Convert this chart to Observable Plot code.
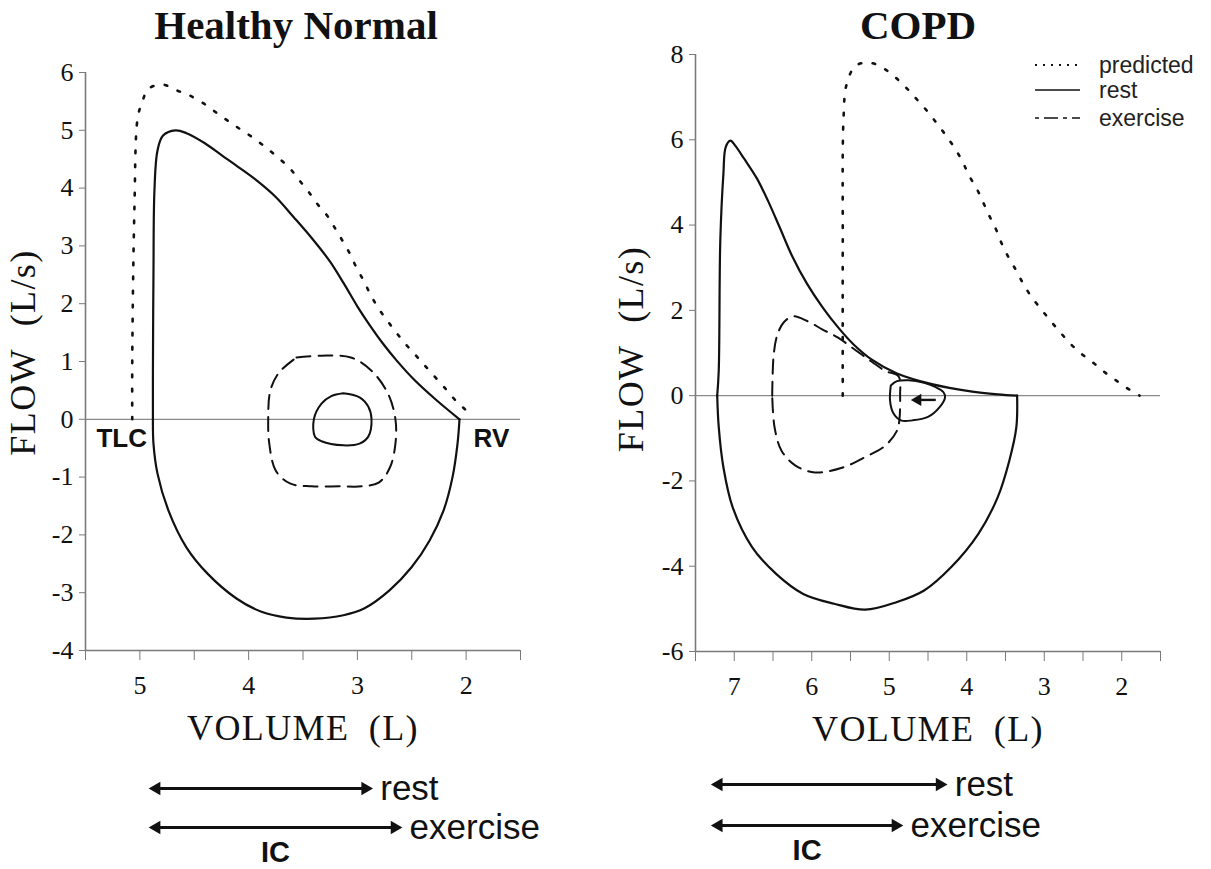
<!DOCTYPE html>
<html><head><meta charset="utf-8">
<script src="https://cdn.jsdelivr.net/npm/d3@7"></script>
<script src="https://cdn.jsdelivr.net/npm/@observablehq/plot@0.6"></script>
<style>
body{margin:0;background:#fff;width:1211px;height:869px;position:relative;overflow:hidden;}
.panel{position:absolute;}
</style></head><body>
<div id="left" class="panel" style="left:0;top:0"></div>
<div id="leftIC" class="panel" style="left:0;top:760px"></div>
<div id="right" class="panel" style="left:605px;top:0"></div>
<div id="rightIC" class="panel" style="left:605px;top:760px"></div>
<div id="legend" class="panel" style="left:1030px;top:48px"></div>
<script>
// ---------- DATA: [volume (L), flow (L/s)] ----------
const panelTitles = ["Healthy Normal", "COPD"];
const leftXTicks = [5.5, 5, 4.5, 4, 3.5, 3, 2.5, 2, 1.5];
const leftYTicks = [-4, -3, -2, -1, 0, 1, 2, 3, 4, 5, 6];
const rightXTicks = [7.5, 7, 6.5, 6, 5.5, 5, 4.5, 4, 3.5, 3, 2.5, 2, 1.5];
const rightYTicks = [-6, -4, -2, 0, 2, 4, 6, 8];

const leftPredicted = [[5.07,0],[5.07,1.05],[5.05,3.66],[5.02,5.22],[4.98,5.48],[4.92,5.72],[4.79,5.79],[4.66,5.69],[4.54,5.6],[4.41,5.46],[4.30,5.31],[4.18,5.15],[4.07,5.01],[3.95,4.86],[3.84,4.7],[3.73,4.53],[3.62,4.34],[3.54,4.15],[3.45,3.94],[3.37,3.73],[3.28,3.53],[3.21,3.32],[3.14,3.1],[3.07,2.87],[3.01,2.63],[2.94,2.39],[2.88,2.16],[2.81,1.93],[2.73,1.72],[2.65,1.52],[2.56,1.31],[2.47,1.12],[2.38,0.93],[2.19,0.53],[2.08,0.29],[2.0,0.15],[1.97,0.05]];
const leftMaxExp = [[4.88,0],[4.88,0.84],[4.875,2.52],[4.866,3.96],[4.838,4.65],[4.787,4.91],[4.672,5.0],[4.571,4.95],[4.406,4.78],[4.249,4.57],[4.084,4.35],[3.918,4.12],[3.753,3.85],[3.587,3.50],[3.422,3.14],[3.256,2.74],[3.128,2.36],[2.999,1.95],[2.898,1.66],[2.769,1.32],[2.640,1.02],[2.475,0.68],[2.272,0.33],[2.061,0]];
const leftMaxInsp = [[2.061,0],[2.079,-0.42],[2.125,-1.0],[2.208,-1.58],[2.337,-2.1],[2.502,-2.56],[2.705,-2.96],[2.934,-3.27],[3.128,-3.39],[3.394,-3.45],[3.652,-3.43],[3.882,-3.33],[4.112,-3.1],[4.378,-2.67],[4.571,-2.22],[4.737,-1.58],[4.838,-0.94],[4.875,-0.42],[4.88,0]];
const leftExercise = [[3.56,1.07],[3.33,1.1],[3.06,1.07],[2.87,0.84],[2.72,0.45],[2.65,0],[2.65,-0.42],[2.7,-0.83],[2.8,-1.09],[2.96,-1.16],[3.16,-1.16],[3.42,-1.16],[3.62,-1.11],[3.75,-0.89],[3.81,-0.42],[3.82,0],[3.8,0.5],[3.72,0.81],[3.56,1.07]];
const leftRest = [[3.13,0.45],[2.98,0.38],[2.9,0.22],[2.87,0],[2.9,-0.3],[2.98,-0.42],[3.13,-0.45],[3.33,-0.38],[3.39,-0.3],[3.40,0],[3.33,0.27],[3.24,0.4],[3.13,0.45]];
const leftLabels = [{v:4.88, f:0, label:"TLC", side:"end"}, {v:2.06, f:0, label:"RV", side:"start"}];
const leftIC = [{phase:"rest", tlc:4.875, eelv:2.90}, {phase:"exercise", tlc:4.875, eelv:2.63}];

const rightPredicted = [[5.6,0],[5.6,3.5],[5.59,6.5],[5.55,7.3],[5.43,7.74],[5.23,7.8],[5.06,7.66],[4.9,7.43],[4.75,7.16],[4.63,6.92],[4.5,6.65],[4.38,6.37],[4.26,6.08],[4.15,5.79],[4.05,5.47],[3.97,5.16],[3.87,4.85],[3.79,4.54],[3.71,4.22],[3.62,3.89],[3.55,3.57],[3.46,3.24],[3.36,2.93],[3.27,2.62],[3.17,2.33],[3.05,2.05],[2.93,1.78],[2.8,1.5],[2.67,1.23],[2.52,0.98],[2.36,0.76],[2.22,0.55],[2.06,0.34],[1.9,0.14],[1.77,0]];
const rightMaxExp = [[7.22,0],[7.2,0.59],[7.18,3.64],[7.14,5.2],[7.11,5.83],[7.05,5.98],[6.99,5.87],[6.87,5.55],[6.71,5.1],[6.56,4.55],[6.41,3.93],[6.26,3.3],[6.06,2.62],[5.86,2.07],[5.66,1.6],[5.46,1.2],[5.23,0.85],[4.9,0.52],[4.45,0.27],[3.95,0.1],[3.6,0.03],[3.35,0]];
const rightMaxInsp = [[3.35,0],[3.36,-0.74],[3.45,-1.52],[3.6,-2.38],[3.85,-3.24],[4.2,-4.02],[4.55,-4.57],[4.9,-4.84],[5.31,-5.02],[5.71,-4.88],[6.11,-4.65],[6.46,-4.18],[6.77,-3.55],[7.02,-2.62],[7.14,-1.68],[7.2,-0.74],[7.22,0]];
const rightExercise = [[6.51,0],[6.49,0.98],[6.44,1.45],[6.36,1.72],[6.24,1.86],[6.06,1.75],[5.86,1.55],[5.66,1.36],[5.46,1.1],[5.23,0.8],[5.05,0.58],[4.88,0.45],[4.86,0],[4.87,-0.58],[4.9,-0.82],[5.05,-1.17],[5.31,-1.44],[5.61,-1.69],[5.96,-1.8],[6.21,-1.64],[6.39,-1.29],[6.48,-0.74],[6.51,0]];
const rightRest = [[4.98,0.24],[4.9,0.34],[4.75,0.36],[4.55,0.3],[4.4,0.2],[4.3,0.08],[4.28,-0.04],[4.35,-0.27],[4.5,-0.5],[4.7,-0.58],[4.85,-0.58],[4.95,-0.4],[4.99,-0.11],[4.98,0.24]];
const rightShift = [{from:4.40, to:4.67, f:-0.1}];
const rightIC = [{phase:"rest", tlc:7.24, eelv:4.31}, {phase:"exercise", tlc:7.24, eelv:4.88}];

const legendItems = [
  {label:"predicted", dash:"2,6"},
  {label:"rest", dash:null},
  {label:"exercise", dash:"4,5,14,5"}
];

// ---------- STYLE ----------
const SERIF = "'Liberation Serif','Times New Roman',Times,serif";
const SANS = "'Liberation Sans',Arial,Helvetica,sans-serif";
const AX = "#7a7a7a";
const INK = "#111";
const X = d => d[0], Y = d => d[1];

function panel(o) {
  const line = (data, extra) => Plot.line(data, {x: X, y: Y, stroke: INK, curve: "catmull-rom", ...extra});
  const marks = [
    Plot.ruleY([0], {stroke: "#8a8a8a", strokeWidth: 1.2}),
    Plot.ruleY([o.yDomain[0]], {stroke: AX, strokeWidth: 1.6}),
    Plot.ruleX([o.xDomain[0]], {stroke: AX, strokeWidth: 1.6}),
    Plot.axisY(o.yTicks, {tickSize: 6, tickPadding: 6, stroke: AX, fill: INK, fontSize: 26, fontFamily: SERIF, tickFormat: d => String(d), label: null}),
    Plot.axisX(o.xTicks, {tickSize: 10, tickPadding: 15, stroke: AX, fill: INK, fontSize: 26, fontFamily: SERIF, tickFormat: d => Number.isInteger(d) ? String(d) : "", label: null}),
    line(o.predicted, {strokeWidth: 2.6, strokeDasharray: "2.6,11.4"}),
    line(o.maxExp, {strokeWidth: 2.2}),
    line(o.maxInsp, {strokeWidth: 2.2}),
    line(o.exercise, {strokeWidth: 2, strokeDasharray: "14,8"}),
    line(o.rest, {strokeWidth: 2}),
    Plot.text([o.title], {frameAnchor: "top", lineAnchor: "top", dy: o.titleDy, dx: o.titleDx, fontSize: 41, fontWeight: "bold", fontFamily: SERIF, fill: INK}),
    Plot.text(["VOLUME (L)"], {frameAnchor: "bottom", lineAnchor: "bottom", dy: 89, fontSize: 36, fontFamily: SERIF, fill: INK}),
    Plot.text(["FLOW (L/s)"], {frameAnchor: "left", textAnchor: "middle", lineAnchor: "middle", rotate: -90, dx: o.ylabDx, dy: o.ylabDy, fontSize: 36, fontFamily: SERIF, fill: INK})
  ];
  if (o.labels) {
    marks.push(Plot.text(o.labels.filter(d => d.side === "end"), {x: "v", y: "f", text: "label", textAnchor: "end", dx: -6, dy: 19, fontSize: 26, fontWeight: "bold", fontFamily: SANS, fill: INK}));
    marks.push(Plot.text(o.labels.filter(d => d.side === "start"), {x: "v", y: "f", text: "label", textAnchor: "start", dx: 14, dy: 19, fontSize: 26, fontWeight: "bold", fontFamily: SANS, fill: INK}));
  }
  if (o.shift) {
    marks.push(Plot.link(o.shift, {x1: "from", x2: "to", y1: "f", y2: "f", stroke: INK, strokeWidth: 2.4}));
    marks.push(Plot.dot(o.shift, {x: "to", y: "f", symbol: "triangle", rotate: -90, r: 4.5, fill: INK, stroke: null, dx: 3}));
  }
  const p = Plot.plot({
    width: o.width, height: 760,
    marginLeft: o.ml, marginRight: o.mr, marginTop: o.mt, marginBottom: o.mb,
    x: {domain: o.xDomain, axis: null, label: null},
    y: {domain: o.yDomain, axis: null, label: null},
    style: {background: "transparent", overflow: "visible", color: INK},
    marks
  });
  d3.select(p).selectAll("text").each(function() {
    const t = this.textContent;
    if (t === "VOLUME (L)") d3.select(this).style("word-spacing", "9px").style("letter-spacing", "1.4px");
    if (t === "FLOW (L/s)") d3.select(this).style("word-spacing", "12px").style("letter-spacing", "1.4px");
  });
  return p;
}

function icPanel(o) {
  return Plot.plot({
    width: o.width, height: 109,
    marginLeft: o.ml, marginRight: o.mr, marginTop: 0, marginBottom: 0,
    x: {domain: o.xDomain, axis: null},
    y: {type: "point", domain: ["rest", "exercise"], range: o.rows, padding: 0, axis: null},
    style: {background: "transparent", overflow: "visible"},
    marks: [
      Plot.link(o.data, {x1: "tlc", x2: "eelv", y1: "phase", y2: "phase", stroke: INK, strokeWidth: 3}),
      Plot.dot(o.data, {x: "tlc", y: "phase", symbol: "triangle", rotate: -90, r: 5, fill: INK, stroke: null, dx: 3}),
      Plot.dot(o.data, {x: "eelv", y: "phase", symbol: "triangle", rotate: 90, r: 5, fill: INK, stroke: null, dx: -3}),
      Plot.text(o.data, {x: "eelv", y: "phase", text: "phase", textAnchor: "start", dx: 12, fontSize: 35, fontFamily: SANS, fill: INK}),
      Plot.text(o.data.filter(d => d.phase === "exercise"), {x: d => (d.tlc + d.eelv) / 2, y: "phase", text: () => "IC", dy: 25, fontSize: 29, fontWeight: "bold", fontFamily: SANS, fill: INK})
    ]
  });
}

document.getElementById("left").append(panel({
  width: 600, ml: 85, mr: 80, mt: 72, mb: 110,
  xDomain: [5.5, 1.5], yDomain: [-4, 6], xTicks: leftXTicks, yTicks: leftYTicks,
  predicted: leftPredicted, maxExp: leftMaxExp, maxInsp: leftMaxInsp, exercise: leftExercise, rest: leftRest,
  labels: leftLabels, title: panelTitles[0], titleDy: -63, titleDx: -7, ylabDx: -62, ylabDy: -9
}));
document.getElementById("right").append(panel({
  width: 606, ml: 90, mr: 51, mt: 54, mb: 109,
  xDomain: [7.5, 1.5], yDomain: [-6, 8], xTicks: rightXTicks, yTicks: rightYTicks,
  predicted: rightPredicted, maxExp: rightMaxExp, maxInsp: rightMaxInsp, exercise: rightExercise, rest: rightRest,
  shift: rightShift, title: panelTitles[1], titleDy: -45, titleDx: -10, ylabDx: -64, ylabDy: -4
}));
document.getElementById("leftIC").append(icPanel({width: 600, ml: 85, mr: 80, xDomain: [5.5, 1.5], rows: [28, 67], data: leftIC}));
document.getElementById("rightIC").append(icPanel({width: 606, ml: 90, mr: 51, xDomain: [7.5, 1.5], rows: [24, 65], data: rightIC}));

// legend
const lg = d3.select("#legend").append("svg").attr("width", 181).attr("height", 90).style("overflow", "visible");
legendItems.forEach((d, i) => {
  const y = [17, 42, 70][i];
  lg.append("line").attr("x1", 5).attr("x2", 50).attr("y1", y).attr("y2", y)
    .attr("stroke", INK).attr("stroke-width", d.dash === "2,6" ? 2.2 : 1.6)
    .attr("stroke-dasharray", d.dash);
  lg.append("text").attr("x", 69).attr("y", y).attr("dy", "0.35em")
    .attr("font-family", SANS).attr("font-size", 23).attr("fill", "#222").text(d.label);
});
</script>
</body></html>
